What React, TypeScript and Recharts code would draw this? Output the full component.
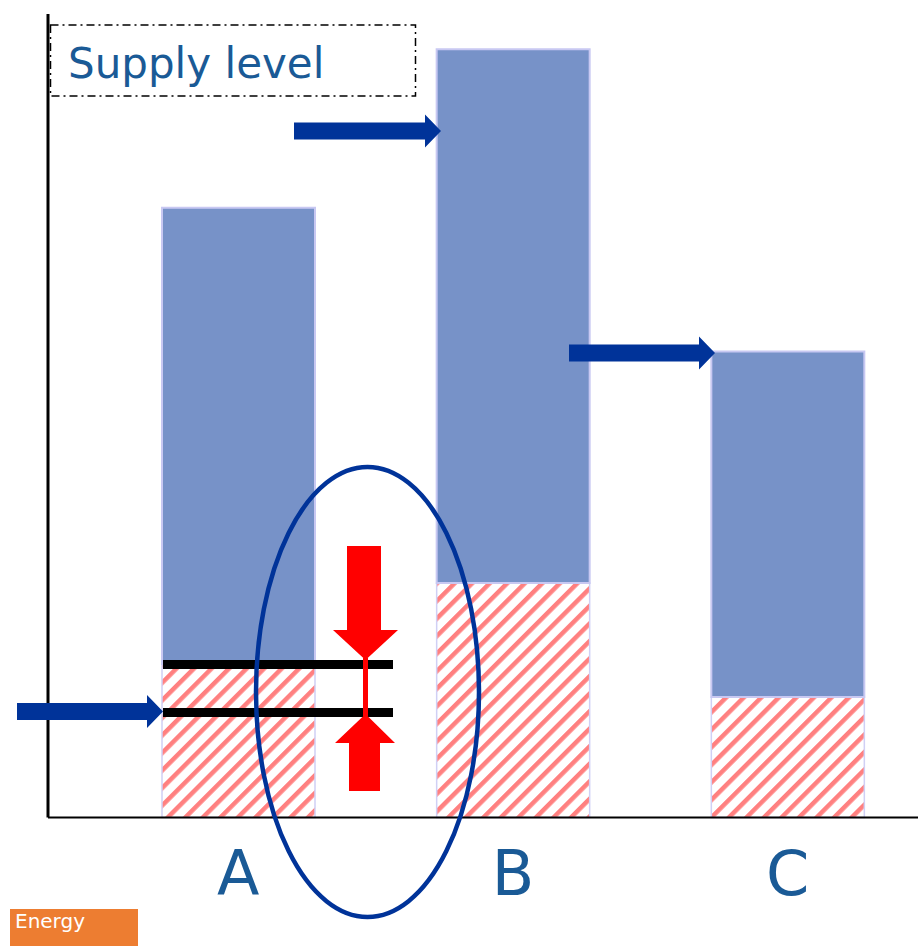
import React from "react";
import { Bar, BarChart, XAxis, YAxis } from "recharts";

const categories = ["A", "B", "C"];
// lower (hatched) part of each bar, and the blue part stacked on it
const baseLevel = [19.1, 29.2, 15];
const supplyLevel = [56.8, 66.4, 43];

const data = categories.map((name, i) => ({
  name,
  base: baseLevel[i],
  supply: supplyLevel[i],
}));

const FONT = "'DejaVu Sans', Verdana, sans-serif";
const BLUE = "#003399";
const LABEL = "#1A5A96";

function hArrow(x0: number, x1: number, y: number) {
  const s = 8.5;
  const h = 16.5;
  const hl = 16;
  return `${x0},${y - s} ${x1 - hl},${y - s} ${x1 - hl},${y - h} ${x1},${y} ${x1 - hl},${y + h} ${x1 - hl},${y + s} ${x0},${y + s}`;
}

function CatTick({ x, y, payload }: any) {
  return (
    <text x={x} y={y + 77} textAnchor="middle" fontSize={62} fontFamily={FONT} fill={LABEL}>
      {payload.value}
    </text>
  );
}

export default function App() {
  return (
    <div style={{ position: "absolute", left: 0, top: 0, width: 918, height: 946, overflow: "hidden", background: "#fff" }}>
      <BarChart
        width={930}
        height={946}
        data={data}
        margin={{ top: 14, right: 0, left: 0, bottom: 28 }}
        barSize={153}
      >
        <defs>
          <pattern id="hatch" width="12.4" height="12.4" patternUnits="userSpaceOnUse" patternTransform="rotate(45)">
            <rect width="12.4" height="12.4" fill="#fff" />
            <rect width="4.5" height="12.4" fill="#FF8080" />
          </pattern>
        </defs>
        <YAxis
          type="number"
          domain={[0, 100]}
          width={48}
          tick={false}
          tickLine={false}
          axisLine={{ stroke: "#000", strokeWidth: 3 }}
        />
        <XAxis
          dataKey="name"
          height={100.5}
          padding={{ left: 53, right: 5 }}
          tickLine={false}
          tickSize={0}
          tickMargin={0}
          tick={<CatTick />}
          axisLine={{ stroke: "#000", strokeWidth: 2 }}
        />
        <Bar dataKey="base" stackId="s" fill="url(#hatch)" stroke="#D0D0F5" strokeWidth={1.5} isAnimationActive={false} />
        <Bar dataKey="supply" stackId="s" fill="#7792C8" stroke="#C8C8F2" strokeWidth={2} isAnimationActive={false} />
      </BarChart>

      <svg width={918} height={946} style={{ position: "absolute", left: 0, top: 0, pointerEvents: "none" }}>
        {/* black level lines at bar A */}
        <rect x={163} y={660} width={230} height={9} fill="#000" />
        <rect x={163} y={708} width={230} height={9} fill="#000" />

        {/* red squeeze arrows */}
        <polygon points="347,546 381,546 381,630 398,630 365.5,660 333,630 347,630" fill="#FF0000" />
        <rect x={363} y={658} width={5} height={58} fill="#FF0000" />
        <polygon points="365.5,714 395,743 380,743 380,791 349,791 349,743 335,743" fill="#FF0000" />

        {/* blue arrows */}
        <polygon points={hArrow(17, 163, 711.5)} fill={BLUE} />
        <polygon points={hArrow(294, 441, 131)} fill={BLUE} />
        <polygon points={hArrow(569, 715, 353)} fill={BLUE} />

        {/* ellipse */}
        <ellipse cx={367.5} cy={692} rx={111.5} ry={225} fill="none" stroke={BLUE} strokeWidth={4.5} />

        {/* Supply level box */}
        <rect x={50.5} y={25} width={365} height={71} fill="none" stroke="#000" strokeWidth={1.5} strokeDasharray="8 4 2 4" />
        <text x={68} y={78} fontSize={42} fontFamily={FONT} fill={LABEL}>
          Supply level
        </text>

        {/* Energy tag */}
        <rect x={10} y={909} width={128} height={37} fill="#ED7D31" />
        <text x={15} y={928} fontSize={20} fontFamily={FONT} fill="#fff">
          Energy
        </text>
      </svg>
    </div>
  );
}
